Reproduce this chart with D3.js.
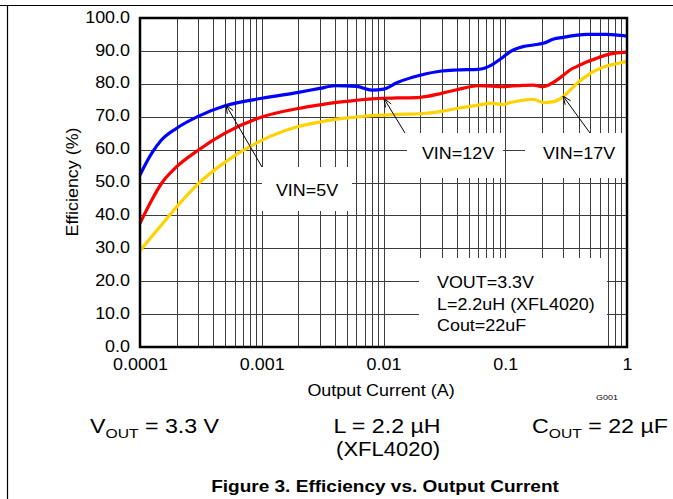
<!DOCTYPE html>
<html><head><meta charset="utf-8">
<script src="https://cdn.jsdelivr.net/npm/d3@7"></script>
<style>body{margin:0;background:#fff}svg{display:block}text{font-family:"Liberation Sans",Arial,sans-serif}</style>
</head><body><svg id="c" width="673" height="499"></svg>
<script>
const currents = [0.0001,0.000125,0.00015,0.0002,0.0003,0.0005,0.001,0.002,0.003,0.004,0.006,0.008,0.01,0.013,0.02,0.03,0.04,0.06,0.077,0.095,0.11,0.14,0.17,0.205,0.25,0.3,0.34,0.39,0.47,0.53,0.68,0.8,1.0];
const eff5V  = [52.3,58.9,62.9,66.5,70.1,73.3,75.6,77.4,78.6,79.4,79.2,78.1,78.4,80.4,82.6,83.9,84.2,84.4,85.7,88.0,89.8,91.3,91.8,92.3,93.6,94.1,94.5,94.8,95.0,95.0,95.0,94.9,94.5];
const eff12V = [37.6,44.7,49.7,54.8,59.8,65.0,69.9,72.5,73.6,74.3,75.0,75.4,75.6,75.7,75.9,77.1,78.2,79.4,79.3,79.1,79.3,79.5,79.6,79.1,80.5,82.6,84.2,85.3,86.7,87.4,88.8,89.3,89.6];
const eff17V = [29.3,33.6,37.1,42.6,49.6,56.2,62.8,67.0,68.4,69.2,69.9,70.3,70.5,70.7,70.9,71.6,72.5,73.5,74.1,73.7,74.3,75.0,75.3,74.3,74.6,76.1,78.0,80.2,82.5,83.7,85.4,86.0,86.8];
const seriesNames = ["VIN=5V","VIN=12V","VIN=17V"];
const seriesColors = ["#0000ff","#ff0000","#ffd200"];
const xTickValues = [0.0001,0.001,0.01,0.1,1];
const xTickLabels = ["0.0001","0.001","0.01","0.1","1"];
const yTickValues = [0,10,20,30,40,50,60,70,80,90,100];

const SX = 1.12; // horizontal stretch of the reference lettering
const svg = d3.select("#c");
const L=140, R=627, T=18, B=347;
const x = d3.scaleLog().domain([0.0001,1]).range([L,R]);
const y = d3.scaleLinear().domain([0,100]).range([B,T]);

function txt(px, py, str, size, anchor, rot, sx) {
  return svg.append("text")
    .attr("transform", `translate(${px},${py})` + (rot ? ` rotate(${rot})` : "") + ` scale(${sx||SX},1)`)
    .attr("text-anchor", anchor || "start").attr("font-size", size).attr("fill","#000").text(str);
}

// page frame
svg.append("line").attr("x1",0).attr("x2",673).attr("y1",5.5).attr("y2",5.5).attr("stroke","#000").attr("stroke-width",1.2);
svg.append("line").attr("x1",7.5).attr("x2",7.5).attr("y1",5).attr("y2",499).attr("stroke","#000").attr("stroke-width",1.2);

// grid
const minor = [];
for (let d=-4; d<0; d++) for (let m=1; m<=9; m++) minor.push(m*Math.pow(10,d));
svg.append("g").selectAll("line").data(minor).join("line")
  .attr("x1",d=>Math.round(x(d))+0.5).attr("x2",d=>Math.round(x(d))+0.5).attr("y1",T).attr("y2",B)
  .attr("stroke","#3c3c3c").attr("stroke-width",1);
svg.append("g").selectAll("line").data(yTickValues).join("line")
  .attr("x1",L).attr("x2",R).attr("y1",d=>Math.round(y(d))+0.5).attr("y2",d=>Math.round(y(d))+0.5)
  .attr("stroke","#3c3c3c").attr("stroke-width",1);

// axes (d3 axes, restyled)
const yAxis = d3.axisLeft(y).tickValues(yTickValues).tickFormat(d3.format(".1f")).tickSize(0).tickPadding(10);
const gy = svg.append("g").attr("transform",`translate(${L},0)`).call(yAxis);
gy.select(".domain").remove();
gy.selectAll("text").attr("font-size",16).attr("fill","#000").style("font-family","Liberation Sans, Arial")
  .attr("transform",function(){ const xx=+d3.select(this).attr("x"); return `translate(${xx*(1-SX)},-1) scale(${SX},1)`; });
const xAxis = d3.axisBottom(x).tickValues(xTickValues).tickFormat((d,i)=>xTickLabels[i]).tickSize(0).tickPadding(12);
const gx = svg.append("g").attr("transform",`translate(0,${B})`).call(xAxis);
gx.select(".domain").remove();
gx.selectAll("text").attr("font-size",16).attr("fill","#000").style("font-family","Liberation Sans, Arial")
  .attr("transform",`scale(${SX},1)`);

// annotation boxes (white, hiding grid)
const boxes = [[262,167,90,44],[407,133,96,45],[525,133,101,45],[419,258,188,89]];
svg.append("g").selectAll("rect").data(boxes).join("rect")
  .attr("x",d=>d[0]).attr("y",d=>d[1]).attr("width",d=>d[2]).attr("height",d=>d[3]).attr("fill","#fff");

// lines
const allSeries = [eff5V,eff12V,eff17V];
const line = d3.line().x((d,i)=>x(currents[i])).y(d=>y(d)).curve(d3.curveMonotoneX);
svg.append("g").selectAll("path").data(allSeries).join("path")
  .attr("d",line).attr("fill","none").attr("stroke",(d,i)=>seriesColors[i]).attr("stroke-width",3.2).attr("stroke-linejoin","round");

// border
svg.append("rect").attr("x",L).attr("y",T).attr("width",R-L).attr("height",B-T).attr("fill","none").attr("stroke","#000").attr("stroke-width",2.5);

// arrows
const arrows = [[262,167,226,105],[405,133,384,98.5],[590,133,563,96]];
arrows.forEach(a=>{
  const [x1,y1,x2,y2]=a;
  svg.append("line").attr("x1",x1).attr("y1",y1).attr("x2",x2).attr("y2",y2).attr("stroke","#000").attr("stroke-width",1);
  const ang = Math.atan2(y1-y2,x1-x2), len=9, sp=0.38;
  const p = [[x2+len*Math.cos(ang+sp),y2+len*Math.sin(ang+sp)],[x2,y2],[x2+len*Math.cos(ang-sp),y2+len*Math.sin(ang-sp)]];
  svg.append("path").attr("d",d3.line()(p)).attr("fill","none").attr("stroke","#000").attr("stroke-width",1);
});

// series labels
txt(307,196,seriesNames[0],16,"middle");
txt(458,159,seriesNames[1],16,"middle");
txt(579,159,seriesNames[2],16,"middle");
const cond = ["VOUT=3.3V","L=2.2uH (XFL4020)","Cout=22uF"];
cond.forEach((c,i)=>txt(437,288+i*21.5,c,16,"start"));

// axis titles
txt(78,182,"Efficiency (%)",16,"middle",-90);
txt(381,396,"Output Current (A)",16,"middle");
txt(607,400,"G001",8,"middle");

// bottom conditions
const BS = 1.16;
const t1 = txt(90,433,"",20,"start",0,BS);
t1.append("tspan").text("V");
t1.append("tspan").attr("font-size",13.5).attr("dy",5).text("OUT");
t1.append("tspan").attr("dy",-5).text(" = 3.3 V");
txt(387,433,"L = 2.2 µH",20,"middle",0,BS);
txt(388,456,"(XFL4020)",20,"middle",0,1.1);
const t3 = txt(532,433,"",20,"start",0,BS);
t3.append("tspan").text("C");
t3.append("tspan").attr("font-size",13.5).attr("dy",5).text("OUT");
t3.append("tspan").attr("dy",-5).text(" = 22 µF");

txt(385,492,"Figure 3. Efficiency vs. Output Current",17,"middle").attr("font-weight","bold");
</script></body></html>
